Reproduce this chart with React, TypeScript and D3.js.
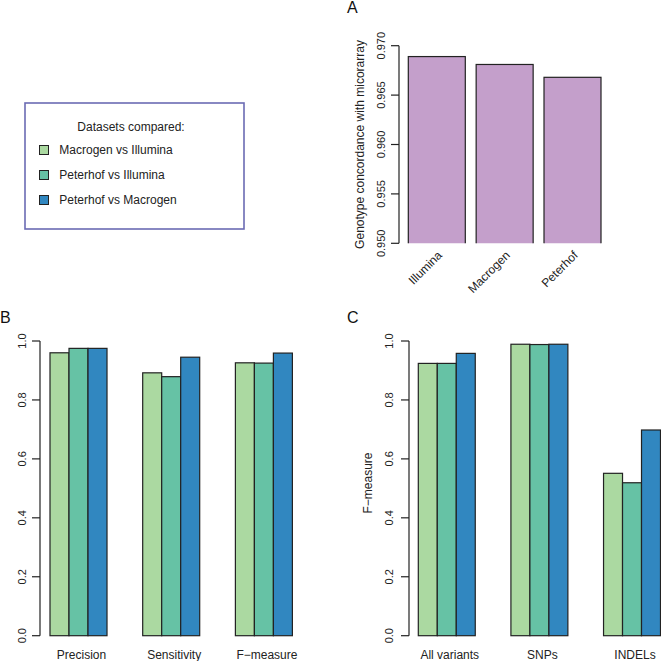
import * as d3 from "d3";
import { useEffect, useRef } from "react";

// panel A - genotype concordance with microarray
const platformLabels = ["Illumina", "Macrogen", "Peterhof"];
const concordanceValues = [0.9689, 0.9681, 0.9668];
const concordanceTicks = [0.95, 0.955, 0.96, 0.965, 0.97];

// series shared by B and C
const seriesNames = ["Macrogen vs Illumina", "Peterhof vs Illumina", "Peterhof vs Macrogen"];
const seriesColors = ["#abd9a1", "#66c2a5", "#3187c0"];

// panel B
const metricLabels = ["Precision", "Sensitivity", "F\u2212measure"];
const metricMacrogenIllumina = [0.960, 0.892, 0.926];
const metricPeterhofIllumina = [0.975, 0.879, 0.925];
const metricPeterhofMacrogen = [0.975, 0.945, 0.959];

// panel C
const variantLabels = ["All variants", "SNPs", "INDELs"];
const fMacrogenIllumina = [0.924, 0.989, 0.551];
const fPeterhofIllumina = [0.924, 0.988, 0.519];
const fPeterhofMacrogen = [0.958, 0.989, 0.698];

const unitTicks = [0, 0.2, 0.4, 0.6, 0.8, 1.0];

const FONT = "'Liberation Sans', Arial, Helvetica, sans-serif";

const App = () => {
    const chartRef = useRef(null);

    useEffect(() => {
        const svg = d3.select(chartRef.current);
        svg.selectAll("*").remove();
        svg.style("font-family", FONT);

        // rotated y-axis with R-like ticks
        const drawYAxis = (g, scale, ticks, axisX, labelX, fmt, size) => {
            g.append("line")
                .attr("x1", axisX).attr("x2", axisX)
                .attr("y1", scale(ticks[0])).attr("y2", scale(ticks[ticks.length - 1]))
                .attr("stroke", "#222").attr("stroke-width", 1.2);
            ticks.forEach(t => {
                g.append("line")
                    .attr("x1", axisX - 8).attr("x2", axisX)
                    .attr("y1", scale(t)).attr("y2", scale(t))
                    .attr("stroke", "#222").attr("stroke-width", 1.2);
                g.append("text")
                    .attr("transform", `translate(${labelX}, ${scale(t)}) rotate(-90)`)
                    .attr("text-anchor", "middle")
                    .style("font-size", size + "px")
                    .attr("fill", "#222")
                    .text(fmt(t));
            });
        };

        // ---------- Panel A ----------
        const gA = svg.append("g");
        const xA = d3.scaleBand().domain(platformLabels).range([408.3, 601]).paddingInner(0.16).paddingOuter(0);
        const yA = d3.scaleLinear().domain([0.95, 0.97]).range([243.3, 45.7]);

        svg.append("clipPath").attr("id", "clipA")
            .append("rect").attr("x", 400).attr("y", 0).attr("width", 260).attr("height", yA(0.95));

        gA.append("g").attr("clip-path", "url(#clipA)")
            .selectAll("rect")
            .data(platformLabels)
            .enter()
            .append("rect")
            .attr("x", d => xA(d))
            .attr("y", (d, i) => yA(concordanceValues[i]))
            .attr("width", xA.bandwidth())
            .attr("height", (d, i) => yA(0.95) - yA(concordanceValues[i]) + 3)
            .attr("fill", "#c49fcb")
            .attr("stroke", "#222")
            .attr("stroke-width", 1.2);

        drawYAxis(gA, yA, concordanceTicks, 399, 385, d3.format(".3f"), 11);

        gA.append("text")
            .attr("transform", `translate(364, ${(yA(0.95) + yA(0.97)) / 2}) rotate(-90)`)
            .attr("text-anchor", "middle")
            .style("font-size", "12px")
            .attr("fill", "#222")
            .text("Genotype concordance with micorarray");

        platformLabels.forEach(d => {
            gA.append("text")
                .attr("transform", `translate(${xA(d) + xA.bandwidth() / 2 + 6}, 256) rotate(-45)`)
                .attr("text-anchor", "end")
                .style("font-size", "12px")
                .attr("fill", "#222")
                .text(d);
        });

        // ---------- grouped panels B and C ----------
        const yUnit = d3.scaleLinear().domain([0, 1]).range([635.7, 341]);

        const drawGrouped = (g, cats, series, range, axisX, tickLabelX, labelShift) => {
            const x0 = d3.scaleBand().domain(cats).range(range).paddingInner(0.385).paddingOuter(0);
            const x1 = d3.scaleBand().domain(d3.range(series.length)).range([0, x0.bandwidth()]).padding(0);

            cats.forEach((c, ci) => {
                series.forEach((s, si) => {
                    g.append("rect")
                        .attr("x", x0(c) + x1(si))
                        .attr("y", yUnit(s[ci]))
                        .attr("width", x1.bandwidth())
                        .attr("height", yUnit(0) - yUnit(s[ci]))
                        .attr("fill", seriesColors[si])
                        .attr("stroke", "#222")
                        .attr("stroke-width", 1.2);
                });
                g.append("text")
                    .attr("x", x0(c) + x0.bandwidth() / 2 + labelShift)
                    .attr("y", 659)
                    .attr("text-anchor", "middle")
                    .style("font-size", "12px")
                    .attr("fill", "#222")
                    .text(c);
            });

            drawYAxis(g, yUnit, unitTicks, axisX, tickLabelX, d3.format(".1f"), 11);
        };

        const gB = svg.append("g");
        drawGrouped(gB, metricLabels,
            [metricMacrogenIllumina, metricPeterhofIllumina, metricPeterhofMacrogen],
            [50, 292.4], 40, 26, 3);

        const gC = svg.append("g");
        drawGrouped(gC, variantLabels,
            [fMacrogenIllumina, fPeterhofIllumina, fPeterhofMacrogen],
            [418.3, 660.5], 409, 393, 3);

        gC.append("text")
            .attr("transform", `translate(372, 483) rotate(-90)`)
            .attr("text-anchor", "middle")
            .style("font-size", "12px")
            .attr("fill", "#222")
            .text("F\u2212measure");

        // ---------- legend ----------
        const gL = svg.append("g");
        gL.append("rect")
            .attr("x", 25).attr("y", 103)
            .attr("width", 219).attr("height", 126)
            .attr("fill", "white")
            .attr("stroke", "#6b6bb3")
            .attr("stroke-width", 1.6);
        gL.append("text")
            .attr("x", 131).attr("y", 130.5)
            .attr("text-anchor", "middle")
            .style("font-size", "12px")
            .attr("fill", "#222")
            .text("Datasets compared:");
        seriesNames.forEach((name, i) => {
            const cy = 150 + i * 25;
            gL.append("rect")
                .attr("x", 39.5).attr("y", cy - 4.5)
                .attr("width", 9).attr("height", 9)
                .attr("fill", seriesColors[i])
                .attr("stroke", "#222")
                .attr("stroke-width", 1);
            gL.append("text")
                .attr("x", 59.3).attr("y", cy + 4.3)
                .style("font-size", "12px")
                .attr("fill", "#222")
                .text(name);
        });

        // panel letters
        [["A", 347, 13], ["B", 0, 322.5], ["C", 347, 322.5]].forEach(([t, x, y]) => {
            svg.append("text")
                .attr("x", x).attr("y", y)
                .style("font-size", "16px")
                .attr("fill", "#111")
                .text(t);
        });
    }, []);

    return (
        <svg ref={chartRef} width={661} height={661}
            style={{ position: "absolute", left: 0, top: 0, background: "white" }}></svg>
    );
};

export default App;
